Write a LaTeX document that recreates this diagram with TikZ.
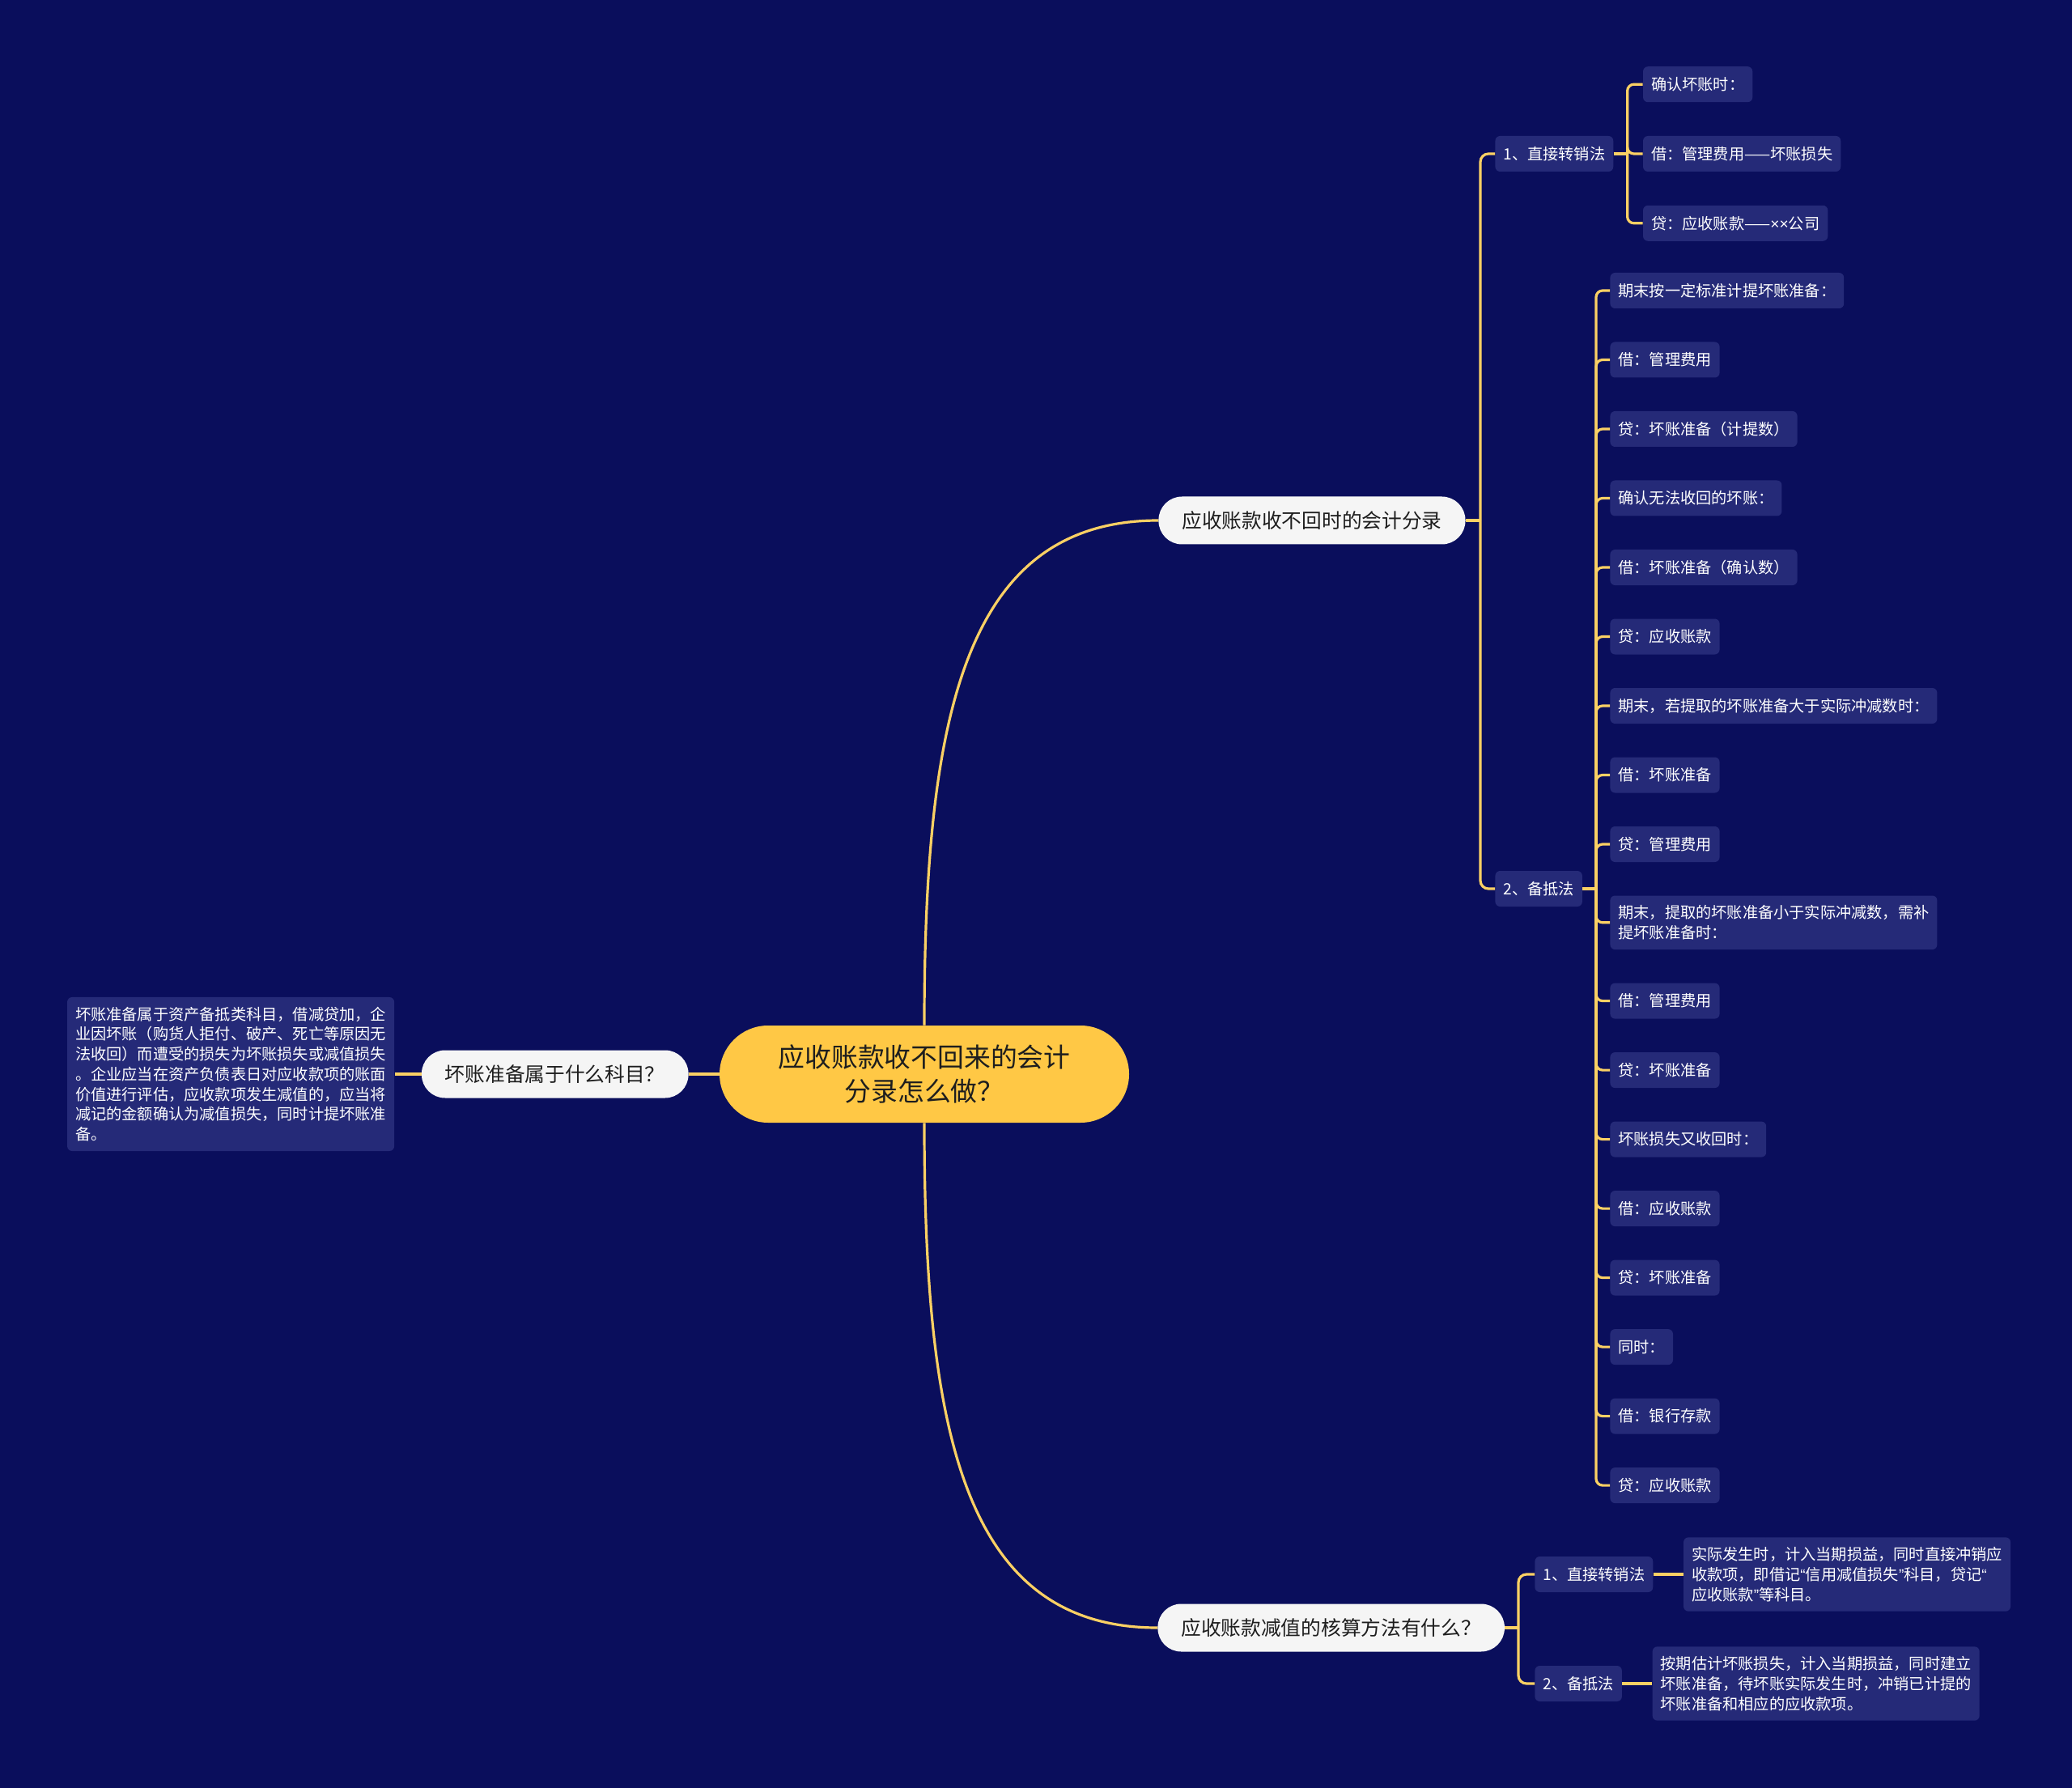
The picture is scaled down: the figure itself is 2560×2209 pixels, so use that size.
\documentclass[tikz,border=0pt]{standalone}
\usepackage{fontspec}
\setmainfont{Noto Sans CJK SC}
\newfontfamily\latinfont{Liberation Sans}
\usetikzlibrary{positioning,calc}
\definecolor{mapbg}{RGB}{10,14,92}
\definecolor{mapleaf}{RGB}{37,42,120}
\definecolor{mapline}{RGB}{250,208,100}
\definecolor{maproot}{RGB}{255,200,69}
\definecolor{mapwhite}{RGB}{245,245,245}
\definecolor{mapdark}{RGB}{30,30,30}
\newcommand{\mapoq}{{\latinfont “}}
\newcommand{\mapcq}{{\latinfont ”}}
\tikzset{
  maplink/.style={draw=mapline, line width=1.6pt},
  rootnode/.style={
    fill=maproot,
    rounded corners=30pt,
    align=center,
    text=mapdark,
    font=\fontsize{16.4pt}{21pt}\selectfont,
    minimum width=253pt,
    minimum height=60pt
  },
  topicnode/.style={
    fill=mapwhite,
    rounded corners=14.5pt,
    text=mapdark,
    font=\fontsize{12.35pt}{15pt}\selectfont,
    inner xsep=14.5pt,
    minimum height=29.5pt
  },
  leafnode/.style={
    fill=mapleaf,
    rounded corners=3pt,
    align=left,
    text=white,
    font=\fontsize{9.6pt}{12.35pt}\selectfont,
    inner xsep=5pt,
    inner ysep=6pt,
    minimum height=22pt
  }
}

\begin{document}
\begin{tikzpicture}[x=0.5pt, y=-0.5pt]
  \fill[mapbg] (0,0) rectangle (2560,2209);
  \useasboundingbox (0,0) rectangle (2560,2209);

  % centre and main topics
  \node[rootnode] (root) at (1142,1327) {应收账款收不回来的会计\\分录怎么做？};
  \node[topicnode, anchor=west] (t1) at (1431,643) {应收账款收不回时的会计分录};
  \node[topicnode, anchor=west] (t2) at (1430,2011) {应收账款减值的核算方法有什么？};
  \node[topicnode, anchor=east] (t3) at (851,1327) {坏账准备属于什么科目？};
  \node[leafnode, left=16.5pt of t3] (t3a) {坏账准备属于资产备抵类科目，借减贷加，企\\业因坏账（购货人拒付、破产、死亡等原因无\\法收回）而遭受的损失为坏账损失或减值损失\\。企业应当在资产负债表日对应收款项的账面\\价值进行评估，应收款项发生减值的，应当将\\减记的金额确认为减值损失，同时计提坏账准\\备。};

  % methods
  \node[leafnode, anchor=west] (s11) at (1847,190) {1、直接转销法};
  \node[leafnode, anchor=west] (s12) at (1847,1098) {2、备抵法};
  \node[leafnode, anchor=west] (s21) at (1896,1945) {1、直接转销法};
  \node[leafnode, anchor=west] (s22) at (1896,2080) {2、备抵法};
  \node[leafnode, right=18.5pt of s21] (s21a) {实际发生时，计入当期损益，同时直接冲销应\\收款项，即借记\mapoq 信用减值损失\mapcq 科目，贷记\mapoq\\应收账款\mapcq 等科目。};
  \node[leafnode, right=18.5pt of s22] (s22a) {按期估计坏账损失，计入当期损益，同时建立\\坏账准备，待坏账实际发生时，冲销已计提的\\坏账准备和相应的应收款项。};

  % entries
  \node[leafnode, right=18pt of s11] (p2) {借：管理费用——坏账损失};
  \node[leafnode, above=20.5pt of p2.north west, anchor=south west] (p1) {确认坏账时：};
  \node[leafnode, below=20.5pt of p2.south west, anchor=north west] (p3) {贷：应收账款——{\latinfont ××}公司};

  \node[leafnode, anchor=west] (q1) at (1989,359) {期末按一定标准计提坏账准备：};
  \foreach \txt [count=\i from 2, remember=\i as \prev (initially 1)] in
    {借：管理费用, 贷：坏账准备（计提数）, 确认无法收回的坏账：, 借：坏账准备（确认数）,
     贷：应收账款, 期末，若提取的坏账准备大于实际冲减数时：, 借：坏账准备, 贷：管理费用,
     {期末，提取的坏账准备小于实际冲减数，需补\\提坏账准备时：}, 借：管理费用, 贷：坏账准备,
     坏账损失又收回时：, 借：应收账款, 贷：坏账准备, 同时：, 借：银行存款, 贷：应收账款}
    \node[leafnode, below=20.35pt of q\prev.south west, anchor=north west] (q\i) {\txt};

  % connectors
  \draw[maplink] (root.west) -- (t3.east);
  \draw[maplink] (t3.west) -- (t3a.east);
  \draw[maplink] (root.north) .. controls +(0,-380) and +(-240,0) .. (t1.west);
  \draw[maplink] (root.south) .. controls +(0,380) and +(-240,0) .. (t2.west);

  \coordinate (j1) at ($(s11.west |- t1.east)+(-18,0)$);
  \draw[maplink] (t1.east) -- (j1);
  \foreach \n in {s11,s12}
    \draw[maplink, rounded corners=5pt] (\n.west) -| (j1);

  \coordinate (j2) at ($(s21.west |- t2.east)+(-20,0)$);
  \draw[maplink] (t2.east) -- (j2);
  \foreach \n in {s21,s22}
    \draw[maplink, rounded corners=5pt] (\n.west) -| (j2);
  \draw[maplink] (s21.east) -- (s21a.west);
  \draw[maplink] (s22.east) -- (s22a.west);

  \coordinate (k1) at ($(p2.west)+(-19,0)$);
  \draw[maplink] (s11.east) -- (k1);
  \foreach \n in {p1,p2,p3}
    \draw[maplink, rounded corners=4pt] (\n.west) -| (k1);

  \coordinate (k2) at ($(q1.west |- s12.east)+(-17,0)$);
  \draw[maplink] (s12.east) -- (k2);
  \foreach \i in {1,...,18}
    \draw[maplink, rounded corners=4pt] (q\i.west) -| (k2);
\end{tikzpicture}
\end{document}
